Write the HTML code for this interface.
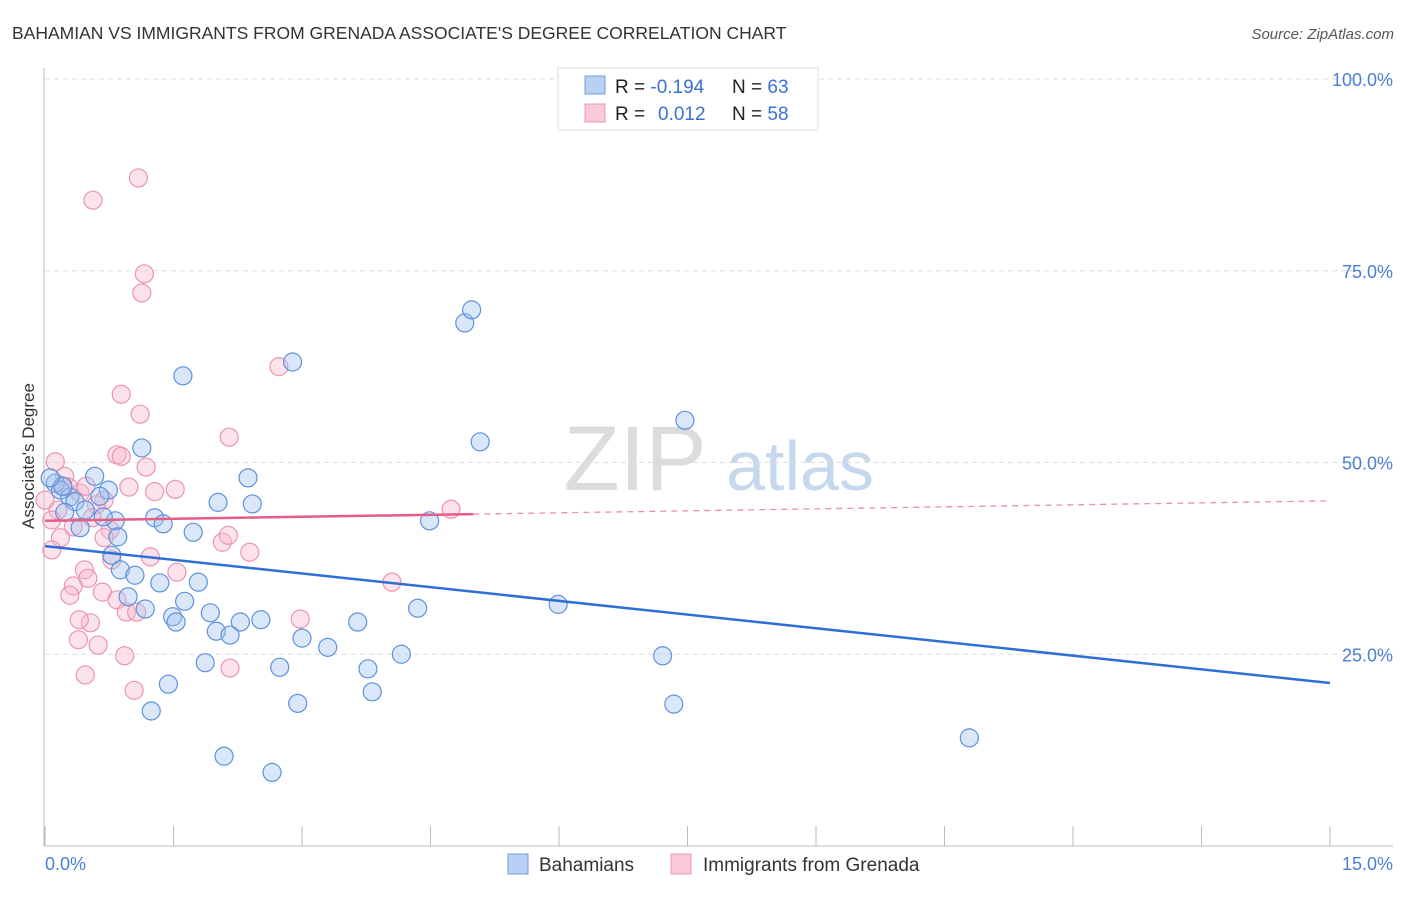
<!DOCTYPE html>
<html><head><meta charset="utf-8"><style>
body{margin:0;background:#fff;font-family:"Liberation Sans",sans-serif}
svg text{font-family:"Liberation Sans",sans-serif}
</style></head><body>
<svg id="c" width="1406" height="892">
<text x="12" y="39" font-size="17.5" fill="#333">BAHAMIAN VS IMMIGRANTS FROM GRENADA ASSOCIATE'S DEGREE CORRELATION CHART</text>
<text x="1394" y="39" font-size="15" fill="#555" font-style="italic" text-anchor="end">Source: ZipAtlas.com</text>
<g>
<text x="635" y="490" font-size="92" fill="#dcdcdc" font-family="Liberation Serif" text-anchor="middle">ZIP</text>
<text x="800" y="490" font-size="70" fill="#c6d8ee" text-anchor="middle">atlas</text>
</g>
<g id="grid"></g>
<g id="axes"></g>
<g id="pts"></g>
<g id="trend"></g>
<text transform="translate(34,456) rotate(-90)" font-size="17" fill="#333" text-anchor="middle">Associate's Degree</text>
<g>
<rect x="558" y="68" width="260" height="62" fill="#fff" stroke="#ddd"/>
<rect x="585" y="76" width="20" height="18" fill="#b8d0f2" stroke="#6f9ee0"/>
<rect x="585" y="104" width="20" height="18" fill="#f9c9d8" stroke="#ec98b4"/>
<text x="615" y="93" font-size="19" fill="#222">R = <tspan fill="#3b72d0">-0.194</tspan></text>
<text x="732" y="93" font-size="19" fill="#222">N = <tspan fill="#3b72d0">63</tspan></text>
<text x="615" y="120" font-size="19" fill="#222">R = <tspan fill="#3b72d0" x="658">0.012</tspan></text>
<text x="732" y="120" font-size="19" fill="#222">N = <tspan fill="#3b72d0">58</tspan></text>
</g>
<g>
<rect x="508" y="854" width="20" height="20" fill="#b8d0f2" stroke="#6f9ee0"/>
<text x="539" y="871" font-size="19" fill="#333">Bahamians</text>
<rect x="671" y="854" width="20" height="20" fill="#f9c9d8" stroke="#ec98b4"/>
<text x="703" y="871" font-size="19" fill="#333">Immigrants from Grenada</text>
</g>
</svg>
<script>
const blueX=[4.90,4.98,2.89,1.61,7.47,5.08,1.13,2.37,0.58,2.02,2.42,1.28,1.38,1.73,4.49,0.82,0.68,0.85,0.78,0.88,1.05,1.34,1.79,0.97,1.17,1.63,1.93,1.49,1.53,2.28,2.52,2.00,2.16,3.00,3.65,4.35,5.99,3.30,1.87,2.74,3.77,4.16,7.21,1.44,3.82,2.95,7.34,1.24,2.09,2.65,10.79,0.12,0.18,0.29,0.21,0.35,0.47,0.06,0.23,0.74,0.64,0.41];
const blueY=[68.2,69.9,63.1,61.3,55.5,52.7,51.9,48.0,48.2,44.8,44.6,42.8,42.0,40.9,42.4,42.4,42.9,40.3,37.9,36.0,35.3,34.3,34.4,32.5,30.9,31.9,30.4,29.9,29.2,29.2,29.5,28.0,27.5,27.1,29.2,31.0,31.5,25.9,23.9,23.3,23.1,25.0,24.8,21.1,20.1,18.6,18.5,17.6,11.7,9.6,14.1,47.3,46.4,45.5,46.9,44.9,43.8,48.0,43.5,46.4,45.6,41.5];
const pinkX=[1.09,0.56,1.16,1.13,2.73,0.89,1.11,2.15,0.84,0.89,0.12,0.23,1.18,0.98,1.28,1.52,0.69,0.60,4.74,0.27,0.41,0.15,0.33,0.55,0.18,0.08,0.76,0.69,1.23,2.07,2.14,2.39,1.54,0.46,0.50,0.33,0.29,0.67,0.84,0.95,1.07,2.98,4.05,0.53,0.40,0.39,0.62,0.93,2.16,0.47,1.04,0.08,0.0,0.20,0.48,0.78];
const pinkY=[87.1,84.2,74.6,72.1,62.5,58.9,56.3,53.3,51.0,50.8,50.1,48.2,49.4,46.8,46.2,46.5,45.1,44.5,43.9,46.8,46.0,43.8,41.6,42.8,40.2,38.6,41.2,40.2,37.7,39.6,40.5,38.3,35.7,36.0,34.9,33.9,32.7,33.1,32.1,30.5,30.5,29.6,34.4,29.1,29.5,26.9,26.2,24.8,23.2,22.3,20.3,42.5,45.1,46.9,46.9,37.3];
const blueTrend=[39.1,21.25]; // y at x=0 and x=15
const pinkTrend=[42.4,45.0];
const pinkSolidEnd=5.0;
const yTicks=[25,50,75,100];
const yTickLabels=["25.0%","50.0%","75.0%","100.0%"];
const xTicks=[0,1.5,3,4.5,6,7.5,9,10.5,12,13.5,15];
const NS="http://www.w3.org/2000/svg";
const X0=45,X1=1330,Y0=846,Y1=79;
const sx=v=>X0+v/15*(X1-X0), sy=v=>Y0-v/100*(Y0-Y1);
function mk(t,a,p){const e=document.createElementNS(NS,t);for(const k in a)e.setAttribute(k,a[k]);document.getElementById(p).appendChild(e);return e;}
yTicks.forEach((t,i)=>{
 const l=mk('line',{x1:45,x2:1393,y1:sy(t),y2:sy(t),stroke:'#ddd','stroke-dasharray':'5,4'},'grid');
 
 
 const tx=mk('text',{x:1393,y:sy(t)+7,'font-size':18,fill:'#4a7fd4','text-anchor':'end'},'grid');
 tx.textContent=yTickLabels[i];
 
 
});
let a=mk('line',{x1:44,x2:44,y1:68,y2:846,stroke:'#bbb'},'axes');


a=mk('line',{x1:44,x2:1393,y1:846,y2:846,stroke:'#bbb'},'axes');


xTicks.forEach(t=>{const l=mk('line',{x1:sx(t),x2:sx(t),y1:826,y2:846,stroke:'#bbb'},'axes');
 
 });
let t=mk('text',{x:45,y:870,'font-size':18,fill:'#4a7fd4'},'axes');t.textContent='0.0%';


t=mk('text',{x:1393,y:870,'font-size':18,fill:'#4a7fd4','text-anchor':'end'},'axes');t.textContent='15.0%';


pinkX.forEach((x,i)=>{const c=mk('circle',{cx:sx(x),cy:sy(pinkY[i]),r:9,fill:'rgba(248,185,206,0.4)',stroke:'#eb94b1','stroke-width':1.2},'pts');
 
 });
blueX.forEach((x,i)=>{const c=mk('circle',{cx:sx(x),cy:sy(blueY[i]),r:9,fill:'rgba(160,196,240,0.4)',stroke:'#5e92dc','stroke-width':1.2},'pts');
 
 });
let l=mk('line',{x1:sx(0),y1:sy(blueTrend[0]),x2:sx(15),y2:sy(blueTrend[1]),stroke:'#2f6fd3','stroke-width':2.5},'trend');


const pm=pinkTrend[0]+(pinkTrend[1]-pinkTrend[0])*pinkSolidEnd/15;
l=mk('line',{x1:sx(0),y1:sy(pinkTrend[0]),x2:sx(pinkSolidEnd),y2:sy(pm),stroke:'#e65c87','stroke-width':2.5},'trend');


l=mk('line',{x1:sx(pinkSolidEnd),y1:sy(pm),x2:sx(15),y2:sy(pinkTrend[1]),stroke:'#eb8fab','stroke-width':1.3,'stroke-dasharray':'6,5'},'trend');


</script>
</body></html>
